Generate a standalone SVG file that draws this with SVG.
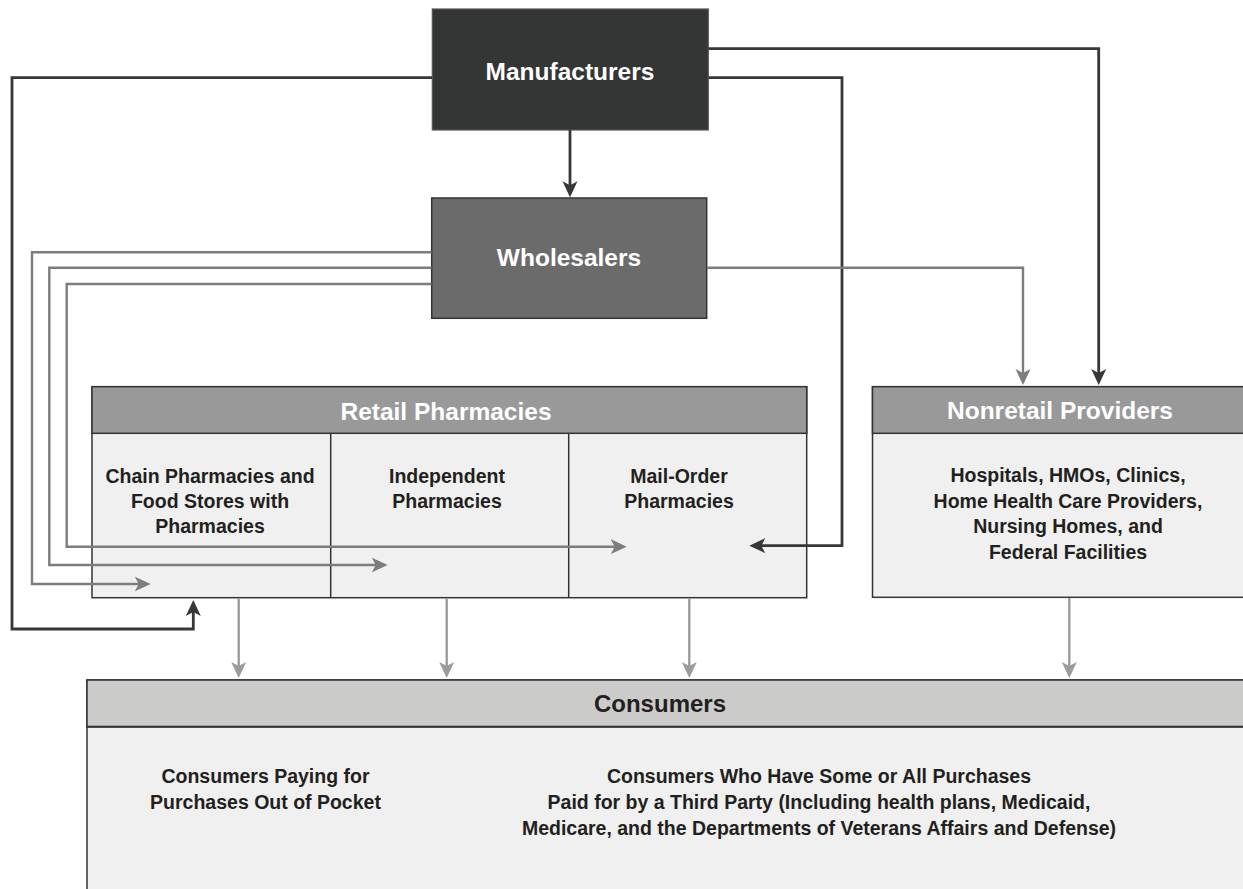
<svg xmlns="http://www.w3.org/2000/svg" width="1243" height="889" viewBox="0 0 1243 889">
  <style>
    .t { font-family: "Liberation Sans", Arial, sans-serif; font-weight: bold; text-anchor: middle; }
    .hd { font-size: 24.5px; fill: #ffffff; }
    .hdk { font-size: 24px; fill: #231f20; }
    .bd { font-size: 19.5px; fill: #231f20; }
    .dk { fill: none; stroke: #363737; stroke-width: 2.8; }
    .md { fill: none; stroke: #7d7d7d; stroke-width: 2.4; }
    .lt { fill: none; stroke: #9b9b9b; stroke-width: 2.4; }
    .box { stroke: #333333; stroke-width: 1.5; }
  </style>
  <defs>
    <marker id="ad" markerUnits="userSpaceOnUse" markerWidth="16" markerHeight="16" viewBox="0 0 16 16" refX="11" refY="8" orient="auto">
      <path d="M0,0.5 L16,8 L0,15.5 L4,8 z" fill="#363737"/>
    </marker>
    <marker id="am" markerUnits="userSpaceOnUse" markerWidth="16" markerHeight="16" viewBox="0 0 16 16" refX="11" refY="8" orient="auto">
      <path d="M0,0.5 L16,8 L0,15.5 L4,8 z" fill="#7d7d7d"/>
    </marker>
    <marker id="al" markerUnits="userSpaceOnUse" markerWidth="16" markerHeight="16" viewBox="0 0 16 16" refX="11" refY="8" orient="auto">
      <path d="M0,0.5 L16,8 L0,15.5 L4,8 z" fill="#9b9b9b"/>
    </marker>
  </defs>

  <rect width="1243" height="889" fill="#ffffff"/>

  <g id="consumers">
    <rect x="87" y="680" width="1170" height="220" fill="#eff0ef" class="box"/>
    <rect x="87" y="680" width="1170" height="46.7" fill="#cbcbca" class="box"/>
    <line x1="87" y1="726.7" x2="1243" y2="726.7" stroke="#333333" stroke-width="2"/>
    <text class="t hdk" x="660" y="712.3">Consumers</text>
    <text class="t bd" x="265.5" y="783.3">Consumers Paying for</text>
    <text class="t bd" x="265.5" y="809">Purchases Out of Pocket</text>
    <text class="t bd" x="819" y="783.3">Consumers Who Have Some or All Purchases</text>
    <text class="t bd" x="819" y="809">Paid for by a Third Party (Including health plans, Medicaid,</text>
    <text class="t bd" x="819" y="835">Medicare, and the Departments of Veterans Affairs and Defense)</text>
  </g>

  <g id="manufacturers">
    <rect x="432.3" y="9" width="276" height="121" fill="#343535" stroke="#555555" stroke-width="1.2"/>
    <text class="t hd" x="570" y="80">Manufacturers</text>
  </g>

  <g id="wholesalers">
    <rect x="431.7" y="198" width="275" height="120.3" fill="#6b6b6b" class="box"/>
    <text class="t hd" x="569" y="265.7">Wholesalers</text>
  </g>

  <g id="retail-pharmacies">
    <rect x="92" y="386.7" width="714.7" height="211" fill="#eff0ef" class="box"/>
    <rect x="92" y="386.7" width="714.7" height="46.6" fill="#999999" class="box"/>
    <line x1="330.7" y1="433.3" x2="330.7" y2="597.7" stroke="#333333" stroke-width="1.5"/>
    <line x1="568.7" y1="433.3" x2="568.7" y2="597.7" stroke="#333333" stroke-width="1.5"/>
    <text class="t hd" x="446" y="420">Retail Pharmacies</text>
    <text class="t bd" x="210" y="482.7">Chain Pharmacies and</text>
    <text class="t bd" x="210" y="508.3">Food Stores with</text>
    <text class="t bd" x="210" y="533.3">Pharmacies</text>
    <text class="t bd" x="447" y="482.7">Independent</text>
    <text class="t bd" x="447" y="508.3">Pharmacies</text>
    <text class="t bd" x="679" y="482.7">Mail-Order</text>
    <text class="t bd" x="679" y="508.3">Pharmacies</text>
  </g>

  <g id="nonretail-providers">
    <rect x="872.5" y="386.7" width="380" height="210.6" fill="#eff0ef" class="box"/>
    <rect x="872.5" y="386.7" width="380" height="46.6" fill="#999999" class="box"/>
    <text class="t hd" x="1060" y="419">Nonretail Providers</text>
    <text class="t bd" x="1068" y="481.7">Hospitals, HMOs, Clinics,</text>
    <text class="t bd" x="1068" y="507.7">Home Health Care Providers,</text>
    <text class="t bd" x="1068" y="533.3">Nursing Homes, and</text>
    <text class="t bd" x="1068" y="559">Federal Facilities</text>
  </g>

  <g id="connectors">
    <path class="dk" d="M570,130 V192.3" marker-end="url(#ad)"/>
    <path class="dk" d="M432,77.7 H12 V629 H193.3 V605" marker-end="url(#ad)"/>
    <path class="dk" d="M708.5,48.7 H1098.7 V380" marker-end="url(#ad)"/>
    <path class="dk" d="M708.5,77.7 H842 V545.7 H754.3" marker-end="url(#ad)"/>

    <path class="md" d="M431.5,252.3 H32 V584 H145.7" marker-end="url(#am)"/>
    <path class="md" d="M431.5,267.7 H49.3 V565 H382.7" marker-end="url(#am)"/>
    <path class="md" d="M431.5,284 H66.7 V546.7 H621.7" marker-end="url(#am)"/>
    <path class="md" d="M707,267.7 H1023 V380" marker-end="url(#am)"/>

    <path class="lt" d="M238.7,598.5 V673" marker-end="url(#al)"/>
    <path class="lt" d="M446.7,598.5 V673" marker-end="url(#al)"/>
    <path class="lt" d="M689.3,598.5 V673" marker-end="url(#al)"/>
    <path class="lt" d="M1069.3,598 V673" marker-end="url(#al)"/>
  </g>
</svg>
